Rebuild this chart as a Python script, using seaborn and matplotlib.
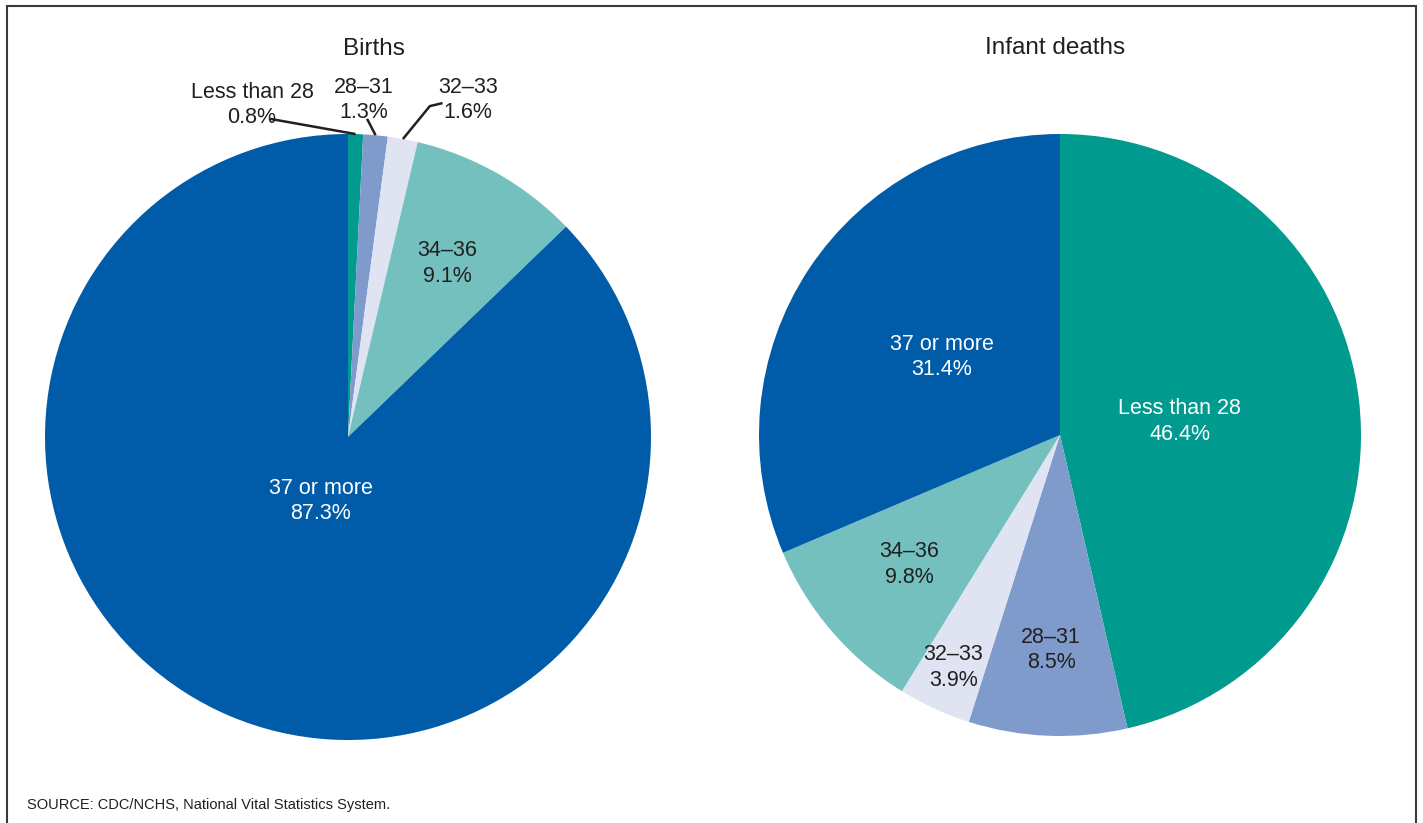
import numpy as np
import matplotlib
matplotlib.use("Agg")
import matplotlib.pyplot as plt
import seaborn as sns
from matplotlib.patches import Rectangle

# ── DATA ──────────────────────────────────────────────────
categories = ["Less than 28", "28\u201331", "32\u201333", "34\u201336", "37 or more"]
births = [0.8, 1.3, 1.6, 9.1, 87.3]
infant_deaths = [46.4, 8.5, 3.9, 9.8, 31.4]
titles = ["Births", "Infant deaths"]
source_note = "SOURCE: CDC/NCHS, National Vital Statistics System."

colors = ["#009a8f", "#7f9bcb", "#dfe3f2", "#74c0bf", "#005ca8"]
text_colors = ["white", "#231f20", "#231f20", "#231f20", "white"]

sns.set_theme(style="white")
plt.rcParams["font.family"] = ["Liberation Sans", "DejaVu Sans"]

W, H = 1423, 823
LS = 1.28
fig = plt.figure(figsize=(W / 100, H / 100), dpi=100)


def add_pie_axes(cx, cy, r):
    # axes placed in pixel units so that the pie radius matches
    ax = fig.add_axes([(cx - r) / W, (H - cy - r) / H, 2 * r / W, 2 * r / H])
    ax.set_xlim(-1, 1)
    ax.set_ylim(-1, 1)
    ax.set_aspect("equal")
    ax.axis("off")
    return ax


def mid_angles(values):
    cum = np.cumsum([0] + list(values))
    mids = (cum[:-1] + cum[1:]) / 2
    return np.deg2rad(90 - mids * 3.6)


def draw_pie(ax, values):
    ax.pie(values, colors=colors, startangle=90, counterclock=False, radius=1,
           wedgeprops=dict(linewidth=0), frame=False)
    ax.set_xlim(-1, 1)
    ax.set_ylim(-1, 1)


# ── BIRTHS ────────────────────────────────────────────────
ax1 = add_pie_axes(348, 437, 303)
draw_pie(ax1, births)
ang = mid_angles(births)
inside_r = {3: 0.66, 4: 0.23}
for i, r in inside_r.items():
    ax1.text(r * np.cos(ang[i]), r * np.sin(ang[i]),
             f"{categories[i]}\n{births[i]:.1f}%", ha="center", va="center",
             fontsize=15.5, color=text_colors[i], linespacing=LS)

# small slices labelled outside with leader lines
out_text = {0: (-0.317, 1.095), 1: (0.053, 1.112), 2: (0.397, 1.112)}
line_start = {0: [(-0.257, 1.05)], 1: [(0.063, 1.05)],
              2: [(0.312, 1.102), (0.270, 1.092)]}
for i, (tx, ty) in out_text.items():
    ax1.text(tx, ty, f"{categories[i]}\n{births[i]:.1f}%", ha="center",
             va="center", fontsize=15.5, color="#231f20", linespacing=LS,
             clip_on=False)
    pts = line_start[i] + [(1.0 * np.cos(ang[i]), 1.0 * np.sin(ang[i]))]
    xs, ys = zip(*pts)
    ax1.plot(xs, ys, color="#231f20", lw=1.8, clip_on=False,
             solid_capstyle="butt")

ax1.text(0.086, 1.28, titles[0], ha="center", va="center", fontsize=17.5,
         color="#231f20", clip_on=False)

# ── INFANT DEATHS ─────────────────────────────────────────
ax2 = add_pie_axes(1060, 435, 301)
draw_pie(ax2, infant_deaths)
ang2 = mid_angles(infant_deaths)
label_r = [0.40, 0.715, 0.85, 0.66, 0.47]
for i, r in enumerate(label_r):
    ax2.text(r * np.cos(ang2[i]), r * np.sin(ang2[i]),
             f"{categories[i]}\n{infant_deaths[i]:.1f}%", ha="center",
             va="center", fontsize=15.5, color=text_colors[i], linespacing=LS)

ax2.text(-0.017, 1.286, titles[1], ha="center", va="center", fontsize=17.5,
         color="#231f20", clip_on=False)

# ── FRAME AND SOURCE ──────────────────────────────────────
fig.patches.append(Rectangle((7 / W, -0.05), (1416 - 7) / W, (H - 6) / H + 0.05,
                             transform=fig.transFigure, fill=False,
                             edgecolor="#3a3a3a", linewidth=1.5))
fig.text(27 / W, 1 - 805 / H, source_note, ha="left", va="center",
         fontsize=10.5, color="#231f20")

plt.savefig("out.png", dpi=100)
